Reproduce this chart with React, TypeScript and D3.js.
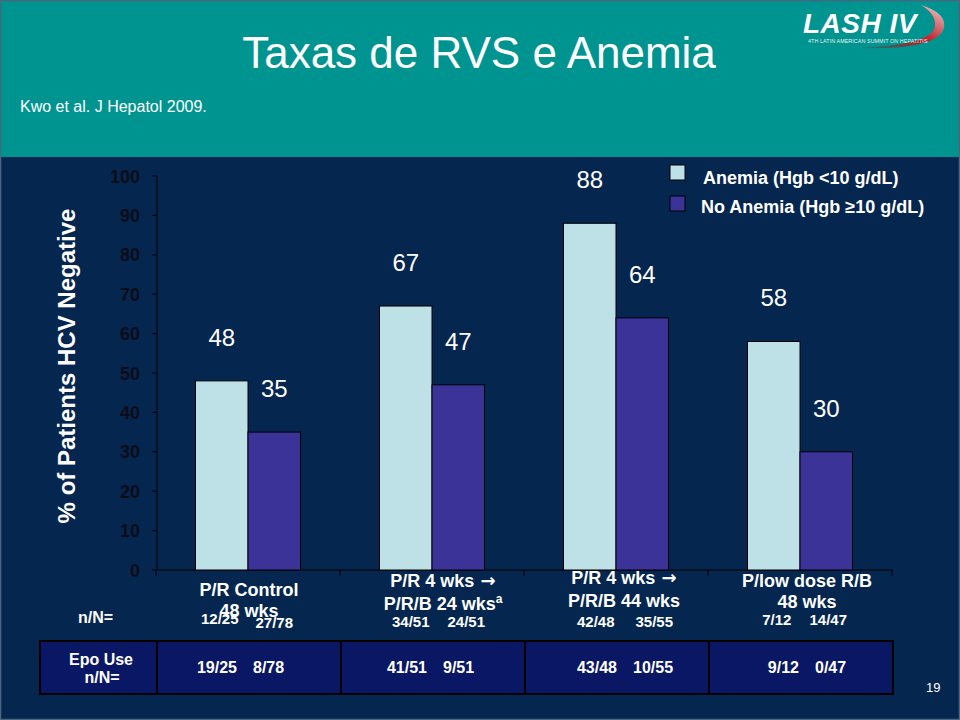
import React from "react";
import * as d3 from "d3";

// ---------- data ----------
const categoryLine1 = ["P/R Control", "P/R 4 wks", "P/R 4 wks", "P/low dose R/B"];
const categoryArrow = [false, true, true, false];
const categoryLine2 = ["48 wks", "P/R/B 24 wks", "P/R/B 44 wks", "48 wks"];
const categorySup = ["", "a", "", ""];
const seriesNames = ["Anemia (Hgb <10 g/dL)", "No Anemia (Hgb \u226510 g/dL)"];
const anemiaValues = [48, 67, 88, 58];
const noAnemiaValues = [35, 47, 64, 30];
const anemiaN = ["12/25", "34/51", "42/48", "7/12"];
const noAnemiaN = ["27/78", "24/51", "35/55", "14/47"];
const epoAnemia = ["19/25", "41/51", "43/48", "9/12"];
const epoNoAnemia = ["8/78", "9/51", "10/55", "0/47"];
const yTicks = [0, 10, 20, 30, 40, 50, 60, 70, 80, 90, 100];

// ---------- layout ----------
const W = 960;
const H = 720;
const FONT = "'Liberation Sans', Arial, Helvetica, sans-serif";
const NAVY = "#05264f";
const TEAL = "#009490";
const LIGHT = "#bde1e6";
const DARK = "#3b3397";
const EPO_FILL = "#0a1764";

const labelDx = [1, 11, 8, 7];
const line1Y = [596, 587, 584, 587];
const line2Y = [617, 610, 607, 608];
const nY = [[624, 628], [627, 627], [627, 627], [625, 625]];
const nDx = [[-2, 0], [5, 8], [6, 12], [3, 2]];
const epoDx = [-4, 2, 8, 6];

export default function App() {
  const y = d3.scaleLinear().domain([0, 100]).range([570, 176]);
  const x0 = d3.scaleBand<number>().domain(d3.range(4)).range([156, 892]).padding(0);
  const bw = x0.bandwidth();
  const x1 = d3.scaleBand<number>().domain([0, 1]).range([(bw - 105) / 2, (bw + 105) / 2]).padding(0);
  const series = [anemiaValues, noAnemiaValues];
  const colors = [LIGHT, DARK];

  return (
    <svg width={W} height={H} style={{ position: "absolute", left: 0, top: 0 }} fontFamily={FONT}>
      <rect x={0} y={0} width={W} height={H} fill={NAVY} />
      <rect x={0} y={0} width={W} height={157} fill={TEAL} />
      <rect x={0.5} y={0.5} width={W - 1} height={H - 1} fill="none" stroke="#4d6680" strokeWidth={1.5} />

      {/* title */}
      <text x={479} y={68} fill="#fff" fontSize={44} textAnchor="middle">Taxas de RVS e Anemia</text>
      <text x={20} y={112} fill="#fff" fontSize={16}>Kwo et al. J Hepatol 2009.</text>

      {/* logo */}
      <g>
        <defs>
          <linearGradient id="sw" x1="0" y1="1" x2="1" y2="0">
            <stop offset="0" stopColor="#7a1010" stopOpacity={0.2} />
            <stop offset="0.5" stopColor="#c0202a" />
            <stop offset="1" stopColor="#f0d0d0" />
          </linearGradient>
        </defs>
        <path d="M 860 48 Q 938 50 944 28 Q 947 13 921 5 Q 939 16 934 30 Q 925 45 860 48 Z" fill="url(#sw)" />
        <text x={803} y={33} fill="#fff" fontSize={28} fontWeight="bold" fontStyle="italic" letterSpacing={0.5}>LASH IV</text>
        <text x={808} y={43} fill="#e8f4f4" fontSize={5.3} letterSpacing={0.12}>4TH LATIN AMERICAN SUMMIT ON HEPATITIS</text>
      </g>

      {/* y axis title */}
      <text transform="translate(75,366) rotate(-90)" fill="#fff" fontSize={24} fontWeight="bold" textAnchor="middle">
        % of Patients HCV Negative
      </text>

      {/* y axis */}
      <line x1={157} x2={157} y1={y(100)} y2={y(0)} stroke="#000" strokeWidth={1} />
      {yTicks.map((t) => (
        <g key={t}>
          <line x1={152} x2={157} y1={y(t)} y2={y(t)} stroke="#000" />
          <text x={140} y={y(t) + 6.5} fill="#0a0d18" fontSize={18} fontWeight="bold" textAnchor="end">{t}</text>
        </g>
      ))}

      {/* x axis */}
      <line x1={157} x2={893} y1={y(0)} y2={y(0)} stroke="#000" />
      {d3.range(5).map((i) => {
        const xx = i < 4 ? (x0(i) as number) : (x0(3) as number) + bw;
        return <line key={i} x1={xx} x2={xx} y1={y(0)} y2={y(0) + 6} stroke="#000" />;
      })}

      {/* bars */}
      {d3.range(4).map((i) => (
        <g key={i} transform={`translate(${x0(i)},0)`}>
          {series.map((vals, s) => (
            <g key={s}>
              <rect x={x1(s)} y={y(vals[i])} width={x1.bandwidth()} height={y(0) - y(vals[i])}
                fill={colors[s]} stroke="#000" strokeWidth={1} />
              <text x={(x1(s) as number) + x1.bandwidth() / 2} y={y(vals[i]) - 35} fill="#fff" fontSize={24} textAnchor="middle">
                {vals[i]}
              </text>
            </g>
          ))}
        </g>
      ))}

      {/* legend */}
      {seriesNames.map((nm, s) => (
        <g key={s}>
          <rect x={670} y={165 + s * 31} width={15} height={15} fill={colors[s]} stroke="#000" strokeWidth={1} />
          <text x={703 - s * 2} y={184 + s * 29} fill="#fff" fontSize={18} fontWeight="bold">{nm}</text>
        </g>
      ))}

      {/* category labels */}
      {d3.range(4).map((i) => {
        const cx = (x0(i) as number) + bw / 2 + labelDx[i];
        const bx = x0(i) as number;
        return (
          <g key={i} fill="#fff" fontWeight="bold">
            <text x={cx} y={line1Y[i]} fontSize={18} textAnchor="middle">
              {categoryLine1[i]}
              {categoryArrow[i] ? <tspan fontFamily="'DejaVu Sans', sans-serif" fontSize={18} fontWeight="bold">{" \u2192"}</tspan> : null}
            </text>
            <text x={cx} y={line2Y[i]} fontSize={18} textAnchor="middle">
              {categoryLine2[i]}
              {categorySup[i] ? <tspan fontSize={12} dy={-7}>{categorySup[i]}</tspan> : null}
            </text>
            <text x={bx + (x1(0) as number) + x1.bandwidth() / 2 + nDx[i][0]} y={nY[i][0]} fontSize={15} textAnchor="middle">{anemiaN[i]}</text>
            <text x={bx + (x1(1) as number) + x1.bandwidth() / 2 + nDx[i][1]} y={nY[i][1]} fontSize={15} textAnchor="middle">{noAnemiaN[i]}</text>
          </g>
        );
      })}
      <text x={78} y={623} fill="#fff" fontSize={16} fontWeight="bold">n/N=</text>

      {/* Epo table */}
      <rect x={40} y={641} width={117} height={53} fill={EPO_FILL} stroke="#000" strokeWidth={2} />
      <text x={101} y={665} fill="#fff" fontSize={16} fontWeight="bold" textAnchor="middle">Epo Use</text>
      <text x={102} y={683} fill="#fff" fontSize={16} fontWeight="bold" textAnchor="middle">n/N=</text>
      {d3.range(4).map((i) => {
        const bx = x0(i) as number;
        const cx = bx + bw / 2 + epoDx[i];
        return (
          <g key={i}>
            <rect x={bx + 1} y={641} width={bw} height={53} fill={EPO_FILL} stroke="#000" strokeWidth={2} />
            <text x={cx - 7} y={673} fill="#fff" fontSize={16} fontWeight="bold" textAnchor="end">{epoAnemia[i]}</text>
            <text x={cx + 9} y={673} fill="#fff" fontSize={16} fontWeight="bold" textAnchor="start">{epoNoAnemia[i]}</text>
          </g>
        );
      })}

      <text x={926} y={692} fill="#fff" fontSize={13}>19</text>
    </svg>
  );
}
